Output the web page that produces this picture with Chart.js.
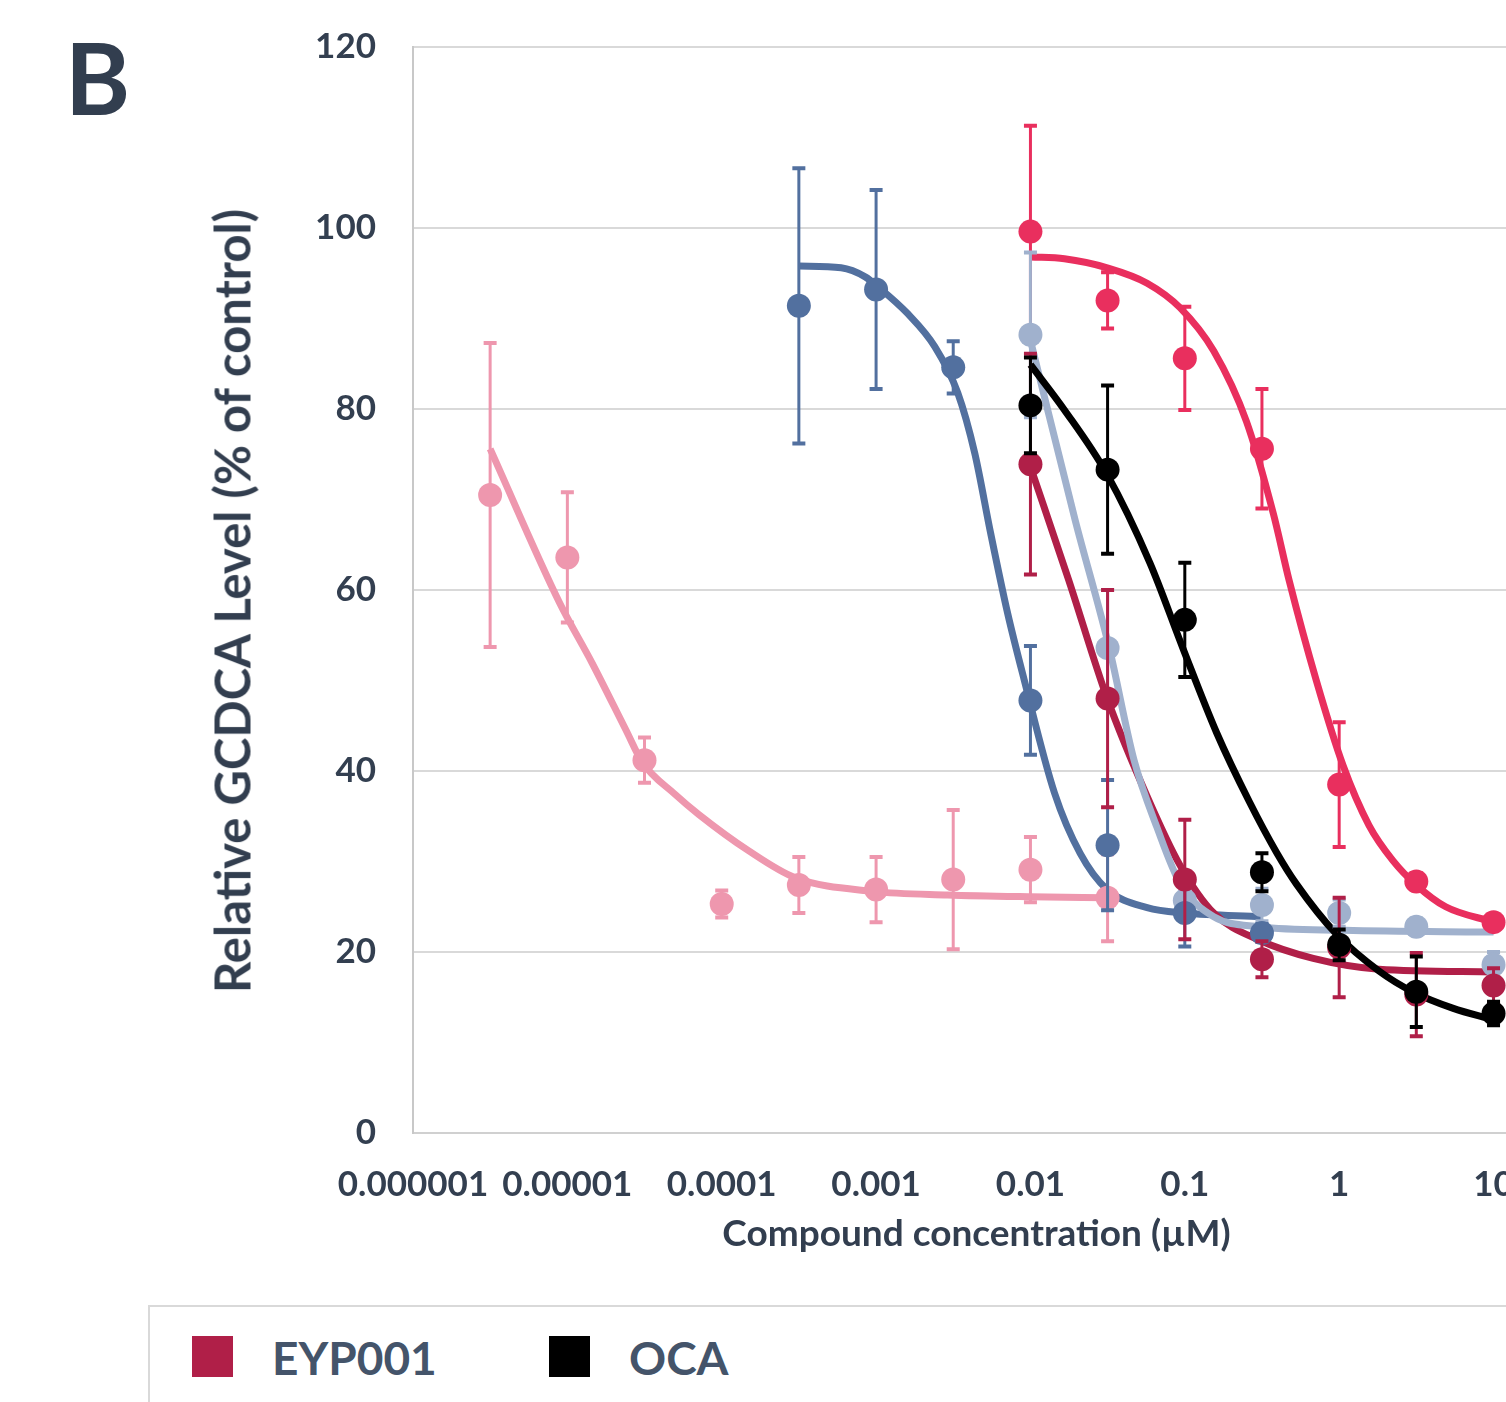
<!DOCTYPE html>
<html>
<head>
<meta charset="utf-8">
<title>Relative GCDCA level</title>
<script src="https://cdn.jsdelivr.net/npm/chart.js@4.4.1/dist/chart.umd.min.js"></script>
<style>
  html, body { margin: 0; padding: 0; background: #fff; overflow: hidden; }
  #wrap { position: relative; width: 1506px; height: 1402px; overflow: hidden; font-family: Lato, sans-serif; }
  #gcdca { position: absolute; left: 0; top: 0; }
  .panel { position: absolute; left: 65px; top: 27px; font-weight: bold; font-size: 99px; line-height: 1; color: #323E4F; }
  .y-title { position: absolute; left: 232px; top: 601px; transform: translate(-50%, -50%) rotate(-90deg);
             white-space: nowrap; font-weight: bold; font-size: 49px; line-height: 1; color: #323E4F; }
  .legend-box { position: absolute; left: 148px; top: 1305px; width: 1700px; height: 200px;
                border-top: 2px solid #D9D9D9; border-left: 2px solid #D9D9D9; }
  .swatch { position: absolute; top: 1336px; width: 41px; height: 41px; }
  .legend-text { position: absolute; top: 1335px; font-weight: bold; font-size: 46px; line-height: 1; color: #44546A; }
</style>
</head>
<body>
<div id="wrap">
  <canvas id="gcdca" width="1600" height="1290"></canvas>
  <div class="panel">B</div>
  <div class="y-title">Relative GCDCA Level (% of control)</div>
  <div class="legend-box"></div>
  <div class="swatch" style="left:192px;background:#B01F48"></div>
  <div class="legend-text" style="left:272px">EYP001</div>
  <div class="swatch" style="left:549px;background:#000"></div>
  <div class="legend-text" style="left:629px">OCA</div>
</div>
<script>
/* ---- data ---- */

// concentrations, µM (half-log steps)
const concPink = [0.00000316, 0.00001, 0.0000316, 0.0001, 0.000316, 0.001, 0.00316, 0.01, 0.0316];
const concBlue = [0.000316, 0.001, 0.00316, 0.01, 0.0316, 0.1, 0.316];
const concMain = [0.01, 0.0316, 0.1, 0.316, 1, 3.16, 10];

// mean % of control and error (±)
const pinkMean  = [70.5, 63.6, 41.2, 25.3, 27.4, 26.9, 28.0, 29.1, 26.0];
const pinkErr   = [16.8, 7.2, 2.5, 1.5, 3.1, 3.6, 7.7, 3.6, 4.8];
const blueMean  = [91.4, 93.2, 84.6, 47.8, 31.8, 24.3, 22.1];
const blueErr   = [15.2, 11.0, 2.9, 6.0, 7.2, 3.7, 1.0];
const redMean   = [99.6, 92.0, 85.6, 75.6, 38.5, 27.8, 23.3];
const redErr    = [11.7, 3.1, 5.7, 6.6, 6.9, 0.9, 0.8];
const eypMean   = [73.9, 48.0, 28.0, 19.2, 20.5, 15.3, 16.3];
const eypErr    = [12.2, 12.0, 6.6, 2.0, 5.5, 4.6, 1.9];
const ocaMean   = [80.4, 73.3, 56.7, 28.8, 20.8, 15.6, 13.2];
const ocaErr    = [5.3, 9.3, 6.3, 2.1, 1.7, 3.9, 1.3];
const lightMean = [88.2, 53.6, 25.7, 25.2, 24.3, 22.8, 18.6];
const lightErr  = [9.1, 6.4, 1.0, 1.8, 1.5, 0.9, 1.4];

// fitted curves
const pinkFitX  = [0.00000316, 0.0000089, 0.0000145, 0.000024, 0.0000305, 0.00005, 0.000071, 0.000149, 0.0003, 0.00096, 0.0029, 0.01, 0.0316];
const pinkFitY  = [75.6, 58.6, 51.9, 44.5, 41.0, 37.4, 35.2, 31.2, 28.2, 26.7, 26.3, 26.1, 26.0];
const blueFitX  = [0.000316, 0.000594, 0.00085, 0.00103, 0.00161, 0.0024, 0.00338, 0.00436, 0.00552, 0.0071, 0.0091, 0.0143, 0.021, 0.0314, 0.057, 0.1, 0.316];
const blueFitY  = [95.8, 95.6, 94.6, 93.5, 90.5, 86.9, 81.8, 75.1, 66.3, 57.5, 50.1, 37.6, 30.9, 26.9, 24.9, 24.3, 23.9];
const redFitX   = [0.01, 0.0166, 0.0314, 0.057, 0.093, 0.154, 0.251, 0.375, 0.475, 0.711, 1.06, 1.56, 2.23, 3.16, 4.9, 10];
const redFitY   = [96.8, 96.6, 95.6, 93.9, 91.2, 86.4, 78.6, 68.4, 61.0, 50.0, 40.6, 34.0, 30.1, 27.4, 25.0, 23.3];
const eypFitX   = [0.01, 0.0177, 0.0313, 0.057, 0.093, 0.154, 0.305, 0.679, 1.81, 10];
const eypFitY   = [73.6, 61.1, 48.1, 37.2, 29.6, 24.3, 21.3, 19.3, 18.1, 17.8];
const ocaFitX   = [0.01, 0.0166, 0.0313, 0.0594, 0.097, 0.161, 0.262, 0.393, 0.529, 0.957, 1.81, 3.0, 5.43, 10];
const ocaFitY   = [84.9, 79.9, 72.8, 63.0, 53.6, 44.2, 36.6, 31.0, 27.5, 22.0, 17.9, 15.6, 13.8, 12.5];
const lightFitX = [0.01, 0.0195, 0.0324, 0.0469, 0.0659, 0.093, 0.154, 0.305, 1.08, 10];
const lightFitY = [87.6, 67.7, 53.6, 41.2, 33.8, 27.6, 23.9, 22.8, 22.4, 22.2];

// axis ticks and range
const xTicks = [0.000001, 0.00001, 0.0001, 0.001, 0.01, 0.1, 1, 10];
const xMin = 0.000001;
const xMax = 20;
const yTicks = [0, 20, 40, 60, 80, 100, 120];

/* ---- colours ---- */
const C = {
    pink: '#EE97AE',
    blue: '#52709F',
    red: '#E92F5E',
    eyp: '#B01F48',
    oca: '#000000',
    light: '#A0B1CD',
};
const INK = '#323E4F';

const pairs = (xs, ys) => xs.map((x, i) => ({ x: x, y: ys[i] }));

function points(label, xs, ys, errs, color) {
    return {
        label: label,
        data: pairs(xs, ys),
        errorBars: errs,
        showLine: false,
        pointRadius: 12,
        pointHoverRadius: 12,
        pointBorderWidth: 0,
        pointBackgroundColor: color,
        borderColor: color,
        backgroundColor: color,
    };
}

function fit(label, xs, ys, color) {
    return {
        label: label,
        data: pairs(xs, ys),
        showLine: true,
        pointRadius: 0,
        borderWidth: 7,
        borderColor: color,
        backgroundColor: color,
        cubicInterpolationMode: 'monotone',
        fill: false,
    };
}

/* ---- error bars drawn under each point set ---- */
const errorBarPlugin = {
    id: 'errorBars',
    beforeDatasetDraw(chart, args) {
        const ds = chart.data.datasets[args.index];
        if (!ds.errorBars) return;
        const ctx = chart.ctx;
        const yScale = chart.scales.y;
        const area = chart.chartArea;
        ctx.save();
        ctx.beginPath();
        ctx.rect(area.left, area.top - 10, area.right - area.left, area.bottom - area.top + 20);
        ctx.clip();
        ctx.strokeStyle = ds.borderColor;
        args.meta.data.forEach((pt, i) => {
            const v = ds.data[i].y;
            const e = ds.errorBars[i];
            const top = yScale.getPixelForValue(v + e);
            const bot = yScale.getPixelForValue(v - e);
            ctx.lineWidth = 3;
            ctx.beginPath();
            ctx.moveTo(pt.x, top);
            ctx.lineTo(pt.x, bot);
            ctx.stroke();
            ctx.lineWidth = 4;
            ctx.beginPath();
            ctx.moveTo(pt.x - 6.5, top);
            ctx.lineTo(pt.x + 6.5, top);
            ctx.moveTo(pt.x - 6.5, bot);
            ctx.lineTo(pt.x + 6.5, bot);
            ctx.stroke();
        });
        ctx.restore();
    }
};

function drawChart() {
    Chart.defaults.font.family = 'Lato';
    Chart.defaults.font.weight = 'bold';
    Chart.defaults.color = INK;

    new Chart(document.getElementById('gcdca'), {
        type: 'scatter',
        data: {
            // first dataset is drawn on top
            datasets: [
                points('OCA', concMain, ocaMean, ocaErr, C.oca),
                points('EYP001', concMain, eypMean, eypErr, C.eyp),
                points('blue', concBlue, blueMean, blueErr, C.blue),
                points('light blue', concMain, lightMean, lightErr, C.light),
                points('red', concMain, redMean, redErr, C.red),
                points('pink', concPink, pinkMean, pinkErr, C.pink),
                fit('OCA fit', ocaFitX, ocaFitY, C.oca),
                fit('light blue fit', lightFitX, lightFitY, C.light),
                fit('EYP001 fit', eypFitX, eypFitY, C.eyp),
                fit('blue fit', blueFitX, blueFitY, C.blue),
                fit('red fit', redFitX, redFitY, C.red),
                fit('pink fit', pinkFitX, pinkFitY, C.pink),
            ]
        },
        options: {
            responsive: false,
            animation: false,
            events: [],
            layout: { autoPadding: false, padding: { left: 0, top: 47, right: 60, bottom: 0 } },
            plugins: {
                legend: { display: false },
                tooltip: { enabled: false },
            },
            scales: {
                x: {
                    type: 'logarithmic',
                    position: 'bottom',
                    min: xMin,
                    max: xMax,
                    afterBuildTicks(scale) {
                        scale.ticks = xTicks.map(v => ({ value: v }));
                    },
                    afterFit(scale) { scale.height = 157; },
                    grid: { display: false, drawTicks: false },
                    border: { display: true, color: '#D0D0D0', width: 2 },
                    ticks: {
                        autoSkip: false,
                        maxRotation: 0,
                        minRotation: 0,
                        padding: 31,
                        color: '#333F50',
                        font: { size: 35, weight: 'bold' },
                        callback: function(value) {
                            const e = Math.round(Math.log10(value));
                            return e < 0 ? value.toFixed(-e) : String(Math.round(value));
                        },
                    },
                    title: {
                        display: true,
                        text: 'Compound concentration (µM)',
                        color: INK,
                        font: { size: 37, weight: 'bold' },
                        padding: { top: 0, bottom: 34 },
                    },
                },
                y: {
                    min: 0,
                    max: 120,
                    afterBuildTicks(scale) {
                        scale.ticks = yTicks.map(v => ({ value: v }));
                    },
                    afterFit(scale) {
                        scale.width = 413;
                        // tick padding is only meant to push labels left
                        scale.paddingTop = 0;
                        scale.paddingBottom = 0;
                    },
                    grid: { color: '#D9D9D9', lineWidth: 2, drawTicks: false },
                    border: { display: true, color: '#C8C8C8', width: 2 },
                    ticks: {
                        padding: 37,
                        color: '#333F50',
                        font: { size: 35, weight: 'bold' },
                    },
                    title: { display: false },
                },
            },
        },
        plugins: [errorBarPlugin],
    });
}

if (document.fonts && document.fonts.load) {
    Promise.all([
        document.fonts.load('bold 35px Lato'),
        document.fonts.load('bold 49px Lato'),
    ]).then(drawChart, drawChart);
} else {
    drawChart();
}
</script>
</body>
</html>
